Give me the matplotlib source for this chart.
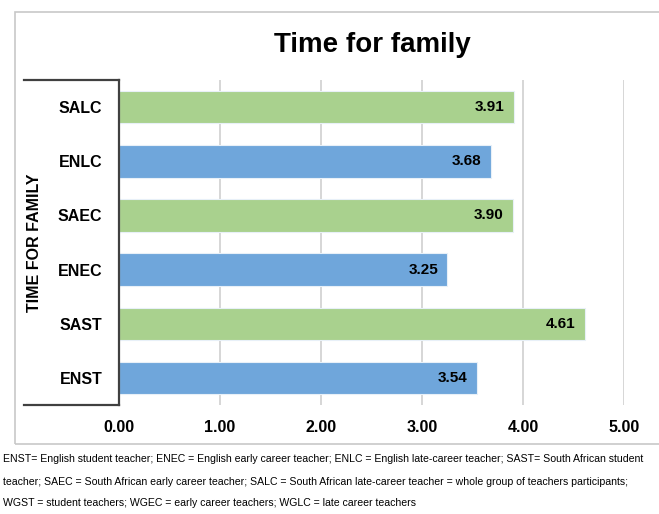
import matplotlib
matplotlib.use('Agg')
import matplotlib.pyplot as plt
from matplotlib.lines import Line2D
from matplotlib.patches import Rectangle

plt.rcParams['font.family'] = ['Liberation Sans', 'DejaVu Sans']

# mean scores, top to bottom as shown
groups = ['SALC', 'ENLC', 'SAEC', 'ENEC', 'SAST', 'ENST']
scores = [3.91, 3.68, 3.90, 3.25, 4.61, 3.54]
bar_colors = ['#a9d18e', '#6fa6db', '#a9d18e', '#6fa6db', '#a9d18e', '#6fa6db']
x_ticks = [0, 1, 2, 3, 4, 5]

note_lines = [
    'ENST= English student teacher; ENEC = English early career teacher; ENLC = English late-career teacher; '
    'SAST= South African student',
    'teacher; SAEC = South African early career teacher; SALC = South African late-career teacher = '
    'whole group of teachers participants;',
    'WGST = student teachers; WGEC = early career teachers; WGLC = late career teachers',
]

W, H = 659, 514
fig = plt.figure(figsize=(W / 100, H / 100), dpi=100)

def fx(px):
    return px / W

def fy(py):
    return 1 - py / H

# outer chart frame
fig.patches.append(Rectangle((fx(15), fy(444)), fx(700) - fx(15), fy(12) - fy(444),
                             transform=fig.transFigure, fill=False, edgecolor='#c8c8c8', lw=1.2))

ax = fig.add_axes([fx(119), fy(405), fx(624) - fx(119), fy(80) - fy(405)])
ypos = list(range(len(groups)))[::-1]
bars = ax.barh(ypos, scores, height=0.6, color=bar_colors, edgecolor='#e8f0f8', lw=0.8, zorder=3)
for y, v in zip(ypos, scores):
    ax.annotate(f'{v:.2f}', (v, y), xytext=(-9, 0), textcoords='offset pixels',
                ha='right', va='center', fontsize=11, fontweight='bold', zorder=4)

ax.set_xlim(0, 5)
ax.set_ylim(-0.5, len(groups) - 0.5)
ax.set_xticks(x_ticks)
ax.set_xticklabels([f'{t:.2f}' for t in x_ticks], fontsize=11.5, fontweight='bold')
ax.set_yticks(ypos)
ax.set_yticklabels(groups, fontsize=11.5, fontweight='bold')
ax.tick_params(axis='x', length=0, pad=11)
ax.tick_params(axis='y', length=0, pad=12)
ax.grid(axis='x', color='#d0d0d0', lw=1.2, zorder=0)
for s in ['top', 'right', 'bottom']:
    ax.spines[s].set_visible(False)
ax.spines['left'].set_color('#404040')
ax.spines['left'].set_linewidth(1.6)
ax.spines['left'].set_zorder(5)

# bracket round the category axis
for yy in (80, 405):
    fig.lines.append(Line2D([fx(24), fx(119)], [fy(yy), fy(yy)], transform=fig.transFigure,
                            color='#404040', lw=1.6))

fig.text(fx(35), fy(243), 'TIME FOR FAMILY', rotation=90, ha='center', va='center',
         fontsize=11.5, fontweight='bold')
fig.text(fx(372), fy(45), 'Time for family', ha='center', va='center',
         fontsize=20, fontweight='bold')

for yy, line in zip((459, 482, 503), note_lines):
    fig.text(fx(3), fy(yy), line, ha='left', va='center', fontsize=7.6,
             family=['Liberation Sans', 'DejaVu Sans'])

fig.savefig('out.png', dpi=100)
